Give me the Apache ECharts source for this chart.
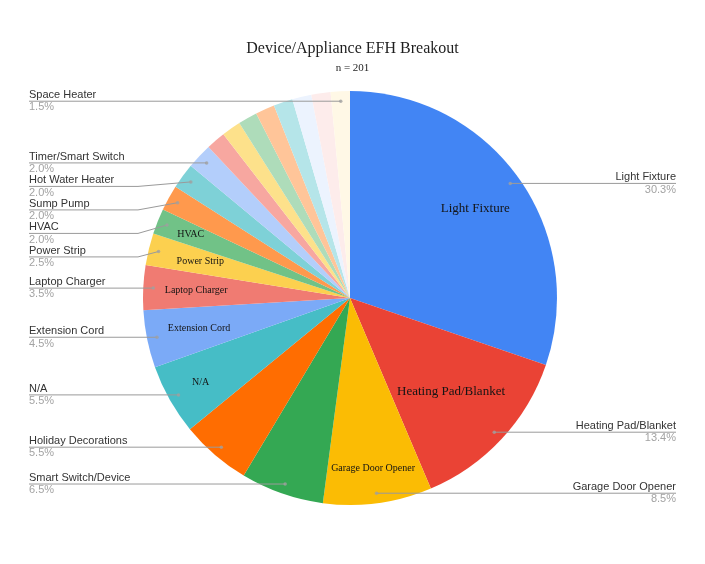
<!DOCTYPE html>
<html>
<head>
<meta charset="utf-8">
<script src="https://cdn.jsdelivr.net/npm/echarts@6/dist/echarts.min.js"></script>
<style>
html,body{margin:0;padding:0;background:#fff;}
#chart{width:705px;height:564px;}
</style>
</head>
<body>
<div id="chart"></div>
<script>
// slices, clockwise from 12 o'clock (percent of n = 201)
var categories = ['Light Fixture','Heating Pad/Blanket','Garage Door Opener','Smart Switch/Device',
    'Holiday Decorations','N/A','Extension Cord','Laptop Charger','Power Strip','HVAC','Sump Pump',
    'Hot Water Heater','Timer/Smart Switch','Other 1','Other 2','Other 3','Other 4','Other 5',
    'Other 6','Other 7','Space Heater'];
var shares = [30.3,13.4,8.5,6.5,5.5,5.5,4.5,3.5,2.5,2.0,2.0,2.0,2.0,1.5,1.5,1.5,1.5,1.5,1.5,1.5,1.5];

// names that get a callout label outside the pie
var calloutNames = ['Light Fixture','Heating Pad/Blanket','Garage Door Opener','Smart Switch/Device',
    'Holiday Decorations','N/A','Extension Cord','Laptop Charger','Power Strip','HVAC','Sump Pump',
    'Hot Water Heater','Timer/Smart Switch','Space Heater'];

var palette = ['#4285f4','#ea4335','#fbbc04','#34a853','#ff6d01','#46bdc6','#7baaf7','#f07b72',
    '#fcd04f','#71c287','#ff994d','#7ed1d7','#b3cefb','#f7a7a0','#fde18b','#aedcba','#ffc599',
    '#b5e5e9','#ecf3fe','#fdeceb','#fff8e6'];

var CENTER = [350, 298];
var R = 207;
var R_CALLOUT = 197;
var serif = '"Liberation Serif", "Times New Roman", serif';
var sans = '"Liberation Sans", Arial, sans-serif';

var myChart = echarts.init(document.getElementById('chart'));

function pieData(showFn, extraFn){
    var out = [];
    for(var i=0;i<categories.length;i++){
        var show = showFn(categories[i]);
        var item = {name:categories[i], value:shares[i], label:{show:show}, labelLine:{show:show}};
        if(extraFn){ extraFn(item); }
        out.push(item);
    }
    return out;
}

// transparent ring, only used to put the serif labels inside the slices
function innerRing(r0, names){
    return {
        type:'pie', silent:true, z:4, center:CENTER, radius:[r0, R], avoidLabelOverlap:false,
        itemStyle:{color:'rgba(0,0,0,0)'},
        label:{position:'inside', fontFamily:serif, fontSize:10, color:'#141414'},
        labelLine:{show:false},
        data: pieData(function(n){ return names.indexOf(n) >= 0; }, function(item){
            if(item.name == 'Light Fixture' || item.name == 'Heating Pad/Blanket'){
                item.label.fontSize = 13;
            }
        })
    };
}

// small dots where the callout lines start (middle of each labelled slice)
var total = 0;
for(var i=0;i<shares.length;i++){ total += shares[i]; }
var dotData = [];
var run = 0;
for(var i=0;i<shares.length;i++){
    if(calloutNames.indexOf(categories[i]) >= 0){
        dotData.push([R_CALLOUT, run + shares[i]/2]);
    }
    run += shares[i];
}

var option = {
    backgroundColor:'#fff',
    animation:false,
    title:{
        text:'Device/Appliance EFH Breakout',
        subtext:'n = 201',
        left:'center',
        top:36,
        itemGap:6,
        textStyle:{fontFamily:serif, fontSize:16, fontWeight:'normal', color:'#1e1e1e'},
        subtextStyle:{fontFamily:serif, fontSize:11, color:'#1e1e1e'}
    },
    polar:{center:CENTER, radius:R},
    angleAxis:{type:'value', min:0, max:total, startAngle:90, clockwise:true, show:false},
    radiusAxis:{type:'value', min:0, max:R, show:false},
    series:[
        {
            type:'pie', silent:true, z:1, center:CENTER, radius:R, avoidLabelOverlap:false,
            label:{show:false}, labelLine:{show:false},
            data: pieData(function(){ return false; }, function(item){
                item.itemStyle = {color: palette[categories.indexOf(item.name)]};
            })
        },
        {
            // callouts start a little inside the slice edge
            type:'pie', silent:true, z:3, center:CENTER, radius:R_CALLOUT,
            itemStyle:{color:'rgba(0,0,0,0)'},
            label:{
                alignTo:'edge', edgeDistance:29, minMargin:0,
                formatter:function(p){ return '{n|' + p.name + '}\n{p|' + p.value.toFixed(1) + '%}'; },
                rich:{
                    n:{fontFamily:sans, fontSize:11, color:'#333', lineHeight:12.5},
                    p:{fontFamily:sans, fontSize:11, color:'#a3a3a3', lineHeight:12.5}
                }
            },
            labelLine:{length:0, length2:10, lineStyle:{color:'#9a9a9a', width:1}},
            labelLayout:function(params){
                var pts = params.labelLinePoints;
                if(!pts){ return; }
                var isLeft = params.labelRect.x < CENTER[0];
                var last = pts[pts.length-1];
                last[0] = isLeft ? params.labelRect.x : params.labelRect.x + params.labelRect.width;
                // bend just outside the pie, like the sheet chart does
                var bendX = isLeft ? CENTER[0] - R - 5 : CENTER[0] + R + 5;
                return {labelLinePoints:[pts[0], [bendX, last[1]], last]};
            },
            data: pieData(function(n){ return calloutNames.indexOf(n) >= 0; })
        },
        {
            type:'scatter', coordinateSystem:'polar', silent:true, z:5,
            symbol:'circle', symbolSize:3.5,
            itemStyle:{color:'#a0a0a0'},
            data:dotData
        },
        innerRing(95, ['Light Fixture','Extension Cord','Laptop Charger','Power Strip']),
        innerRing(63, ['Heating Pad/Blanket']),
        innerRing(130, ['Garage Door Opener','N/A','HVAC'])
    ]
};
myChart.setOption(option);
</script>
</body>
</html>
